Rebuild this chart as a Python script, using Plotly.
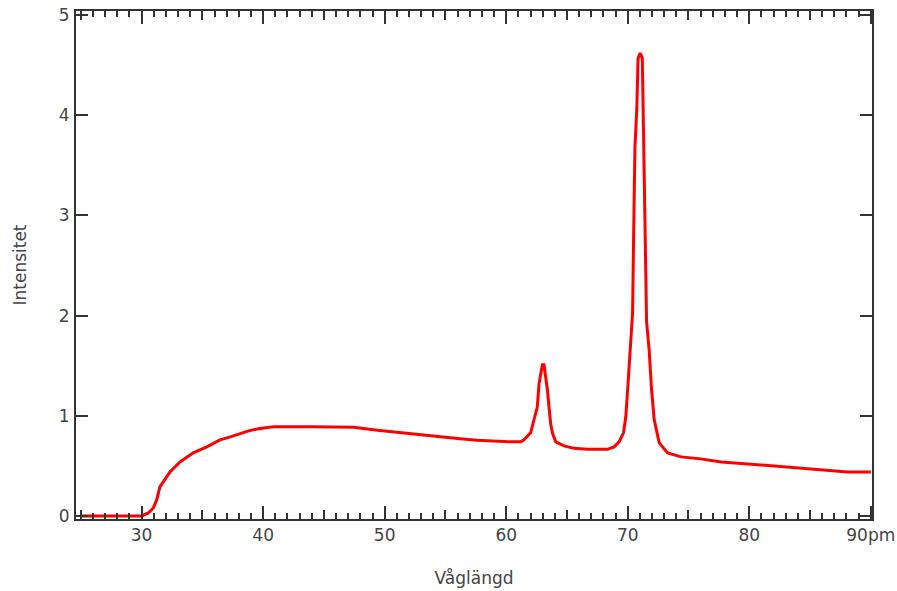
import plotly.graph_objects as go

# Wavelength (pm) and intensity
wavelength = [25.0, 30.0, 30.55, 30.96, 31.24, 31.5, 31.78, 32.33, 33.16, 34.25, 35.36, 36.45,
              37.3, 38.1, 38.8, 39.6, 40.85, 44.0, 47.45, 49.4, 50.9, 52.4, 53.8, 55.1,
              56.2, 57.6, 59.0, 60.2, 61.19, 61.46, 62.01, 62.28, 62.56, 62.70, 62.84, 62.98,
              63.11, 63.25, 63.39, 63.52, 63.66, 63.80, 64.07, 64.76, 65.58, 66.69, 68.33,
              68.88, 69.29, 69.65, 69.84, 70.03, 70.26, 70.40, 70.48, 70.59, 70.75, 70.85,
              71.02, 71.20, 71.28, 71.35, 71.45, 71.55, 71.76, 71.96, 72.18, 72.59, 73.28,
              74.39, 76.0, 77.7, 79.35, 81.0, 82.6, 84.4, 86.3, 88.1, 90.0]
intensity = [0.0, 0.0, 0.03, 0.08, 0.16, 0.29, 0.34, 0.44, 0.54, 0.63, 0.69, 0.76,
             0.79, 0.825, 0.85, 0.87, 0.89, 0.89, 0.885, 0.855, 0.835, 0.82, 0.80, 0.785,
             0.77, 0.755, 0.745, 0.74, 0.74, 0.76, 0.83, 0.96, 1.09, 1.32, 1.42, 1.51,
             1.51, 1.39, 1.26, 1.09, 0.92, 0.83, 0.74, 0.70, 0.675, 0.665, 0.665,
             0.69, 0.74, 0.83, 0.99, 1.33, 1.76, 2.03, 2.75, 3.67, 4.08, 4.57,
             4.62, 4.57, 3.97, 3.53, 2.64, 1.94, 1.66, 1.26, 0.96, 0.73, 0.63,
             0.59, 0.57, 0.54, 0.525, 0.51, 0.49, 0.475, 0.46, 0.44, 0.44]

x_title = "Våglängd"
y_title = "Intensitet"
x_range = [24.6, 90.1]
y_range = [-0.03, 5.04]

axis_col = "#333333"
text_col = "#444444"
font_fam = "DejaVu Sans"

fig = go.Figure()
fig.add_trace(go.Scatter(x=wavelength, y=intensity, mode="lines",
                         line=dict(color="#ff0000", width=3), showlegend=False,
                         hoverinfo="skip"))
# invisible traces that activate the extra tick axes (top, mid ticks, right)
for xa, ya in [("x2", "y"), ("x3", "y"), ("x4", "y"), ("x", "y2")]:
    fig.add_trace(go.Scatter(x=[x_range[0]], y=[0], xaxis=xa, yaxis=ya, mode="markers",
                             marker=dict(opacity=0), showlegend=False, hoverinfo="skip"))

tickfont = dict(family=font_fam, size=17, color=text_col)
tk = dict(ticks="inside", tickwidth=1.5, tickcolor=axis_col, showgrid=False,
          zeroline=False, automargin=False)
minor = dict(dtick=1, tick0=0, ticks="inside", ticklen=6, tickwidth=1.5, tickcolor=axis_col)

fig.update_layout(
    width=897, height=591,
    margin=dict(l=76, r=25, t=11, b=72),
    paper_bgcolor="white", plot_bgcolor="white",
    font=dict(family=font_fam, color=text_col),
    xaxis=dict(range=x_range, tickmode="linear", tick0=0, dtick=10,
               labelalias={"90": "90pm"}, ticklen=13, minor=minor,
               showline=True, linecolor=axis_col, linewidth=2, mirror=True,
               tickfont=tickfont, ticklabeloverflow="allow",
               title=dict(text=x_title, font=dict(size=17, color=text_col), standoff=28), **tk),
    xaxis2=dict(range=x_range, overlaying="x", side="bottom", tickmode="linear", tick0=5, dtick=10,
                ticklen=9, showticklabels=False, showline=False, **tk),
    xaxis3=dict(range=x_range, overlaying="x", side="top", tickmode="linear", tick0=0, dtick=10,
                ticklen=13, minor=minor, showticklabels=False, showline=False, **tk),
    xaxis4=dict(range=x_range, overlaying="x", side="top", tickmode="linear", tick0=5, dtick=10,
                ticklen=9, showticklabels=False, showline=False, **tk),
    yaxis=dict(range=y_range, tickmode="linear", tick0=0, dtick=1, ticklen=12,
               showline=True, linecolor=axis_col, linewidth=2, mirror=True,
               tickfont=tickfont, ticklabelstandoff=1, ticklabeloverflow="allow",
               title=dict(text=y_title, font=dict(size=17, color=text_col), standoff=28), **tk),
    yaxis2=dict(range=y_range, overlaying="y", side="right", tickmode="linear", tick0=0, dtick=1,
                ticklen=12, showticklabels=False, showline=False, **tk),
)

fig.write_html("out.html", config={"displayModeBar": False},
               post_script="document.body.style.margin='0';"
                           "document.documentElement.style.overflow='hidden';")
